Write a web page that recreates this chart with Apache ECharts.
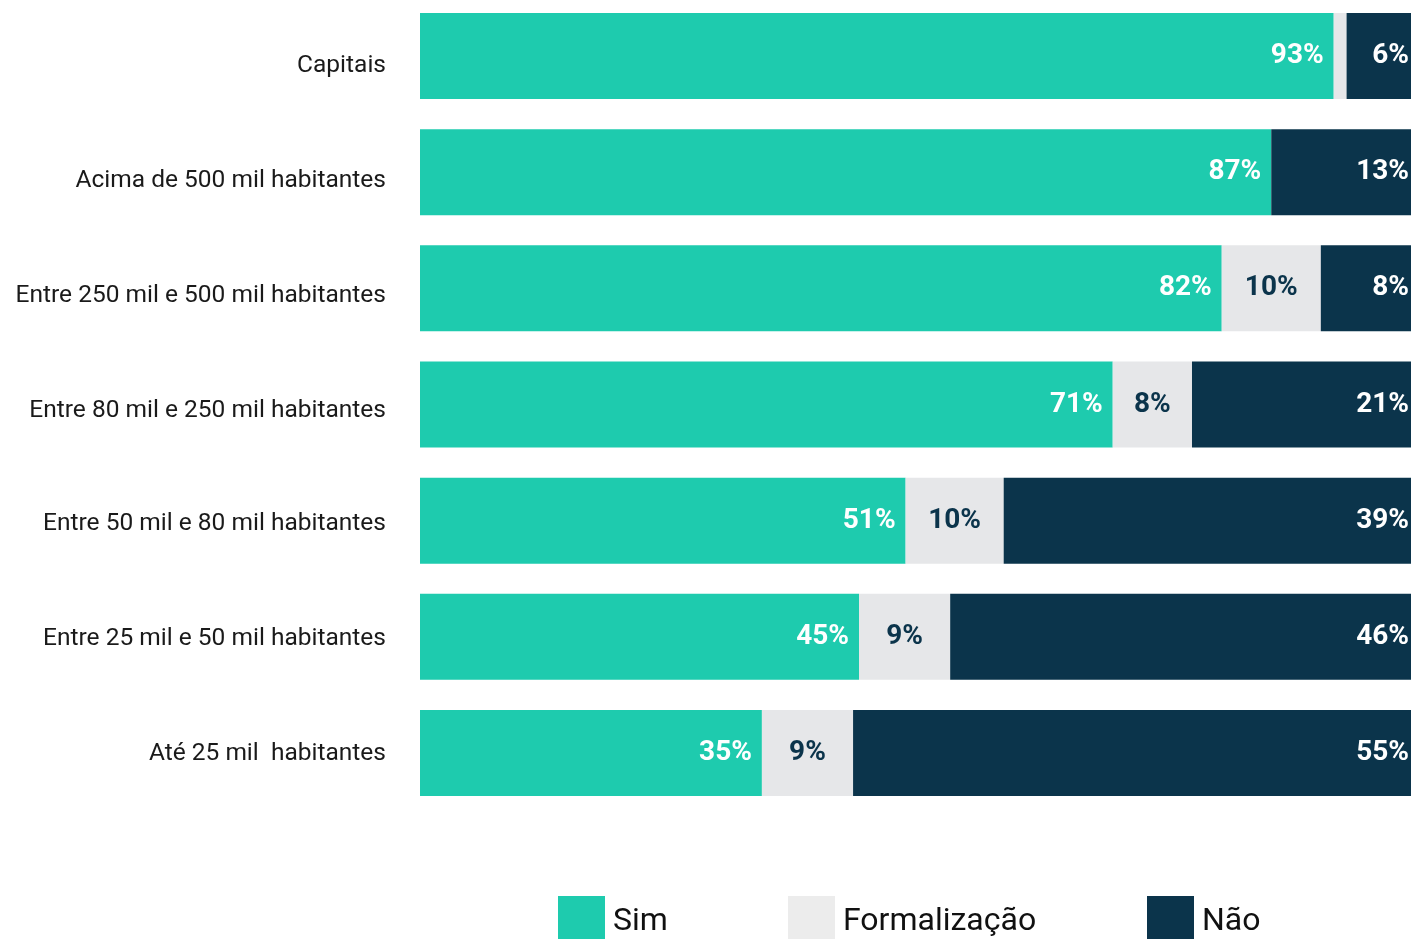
<!DOCTYPE html>
<html>
<head>
<meta charset="UTF-8">
<title></title>
<script src="https://cdn.jsdelivr.net/npm/echarts@6/dist/echarts.min.js"></script>
<style>
  html, body { margin: 0; padding: 0; background: #fff; overflow: hidden; }
  #chart { width: 1412px; height: 941px; margin-top: -2px; }
</style>
</head>
<body>
<div id="chart"></div>
<script>
// faixas de população (de cima para baixo)
var categorias = ['Capitais', 'Acima de 500 mil habitantes', 'Entre 250 mil e 500 mil habitantes',
  'Entre 80 mil e 250 mil habitantes', 'Entre 50 mil e 80 mil habitantes',
  'Entre 25 mil e 50 mil habitantes', 'Até 25 mil  habitantes'];

// comprimentos das barras (% da largura)
var sim = [92.2, 85.9, 80.9, 69.9, 49.0, 44.3, 34.5];
var formalizacao = [1.3, 0, 10.0, 8.0, 9.9, 9.2, 9.2];
var nao = [6.5, 14.1, 9.1, 22.1, 41.1, 46.5, 56.3];

// rótulos impressos nas barras
var rotSim = ['93%', '87%', '82%', '71%', '51%', '45%', '35%'];
var rotForm = ['', '', '10%', '8%', '10%', '9%', '9%'];
var rotNao = ['6%', '13%', '8%', '21%', '39%', '46%', '55%'];

var corSim = '#1ecbae', corForm = '#e6e7e9', corNao = '#0b344b';

// no original os nomes das faixas não ficam exatamente no centro das barras
var deslocY = [10, 9, 8, 7, 4, 3, 1];
var richY = {};
deslocY.forEach(function (d, i) {
  richY['r' + i] = {
    fontFamily: 'Roboto', fontSize: 24.5, color: '#1a1a1a',
    lineHeight: 24 + 2 * Math.abs(d),
    verticalAlign: d >= 0 ? 'bottom' : 'top'
  };
});

var myChart = echarts.init(document.getElementById('chart'));

function legenda(nome, cor, x) {
  return {
    data: [{ name: nome, itemStyle: { color: cor } }],
    left: x, top: 898, padding: 0,
    icon: 'rect', itemWidth: 47, itemHeight: 43, itemGap: 0,
    formatter: '{t|{name}}',
    textStyle: {
      rich: { t: { fontFamily: 'Roboto', fontSize: 32, color: '#111', lineHeight: 40, verticalAlign: 'bottom', padding: [0, 0, 0, 3] } }
    },
    selectedMode: false
  };
}

var labelBase = { fontFamily: 'Roboto', fontWeight: 'bold', fontSize: 28 };

myChart.setOption({
  backgroundColor: '#fff',
  animation: false,
  grid: { left: 420, right: 1, top: 0, bottom: 128 },
  legend: [
    legenda('Sim', '#1ecbae', 558),
    legenda('Formalização', '#ececec', 788),
    legenda('Não', corNao, 1147)
  ],
  xAxis: { type: 'value', min: 0, max: 100, show: false },
  yAxis: {
    type: 'category', data: categorias, inverse: true,
    axisLine: { show: false }, axisTick: { show: false },
    axisLabel: {
      margin: 34,
      formatter: function (v, i) { return '{r' + i + '|' + v + '}'; },
      rich: richY
    }
  },
  series: [
    {
      name: 'Sim', type: 'bar', stack: 't', barWidth: 86, data: sim,
      itemStyle: { color: corSim },
      label: Object.assign({ show: true, position: 'insideRight', distance: 10, color: '#fff',
        formatter: function (p) { return rotSim[p.dataIndex]; } }, labelBase)
    },
    {
      name: 'Formalização', type: 'bar', stack: 't', barWidth: 86, data: formalizacao,
      itemStyle: { color: corForm },
      label: Object.assign({ show: true, position: 'inside', color: corNao,
        formatter: function (p) { return rotForm[p.dataIndex]; } }, labelBase)
    },
    {
      name: 'Não', type: 'bar', stack: 't', barWidth: 86, data: nao,
      itemStyle: { color: corNao },
      label: Object.assign({ show: true, position: 'insideRight', distance: 2, color: '#fff',
        formatter: function (p) { return rotNao[p.dataIndex]; } }, labelBase)
    }
  ]
});
window.onresize = function () { myChart.resize(); };
</script>
</body>
</html>
